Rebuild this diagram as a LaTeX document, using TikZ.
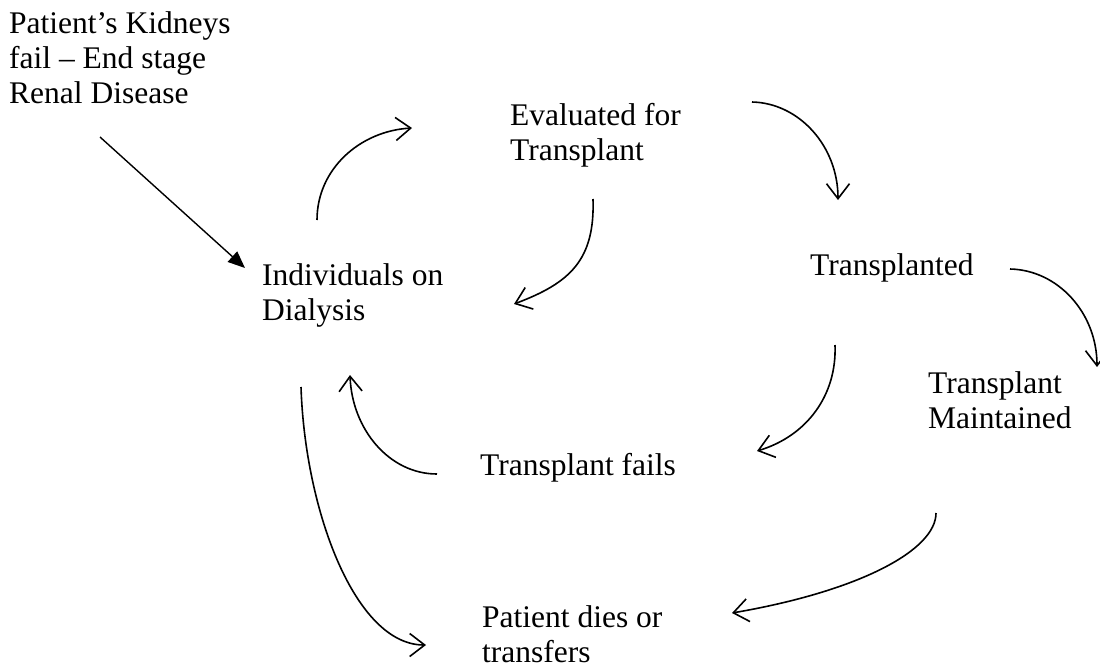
\documentclass[tikz,border=0pt]{standalone}
\usepackage{fontspec}
\setmainfont{Liberation Serif}
\usetikzlibrary{arrows.meta}
\begin{document}
\begin{tikzpicture}[x=1pt,y=-1pt,
  lbl/.style={anchor=north west,inner sep=0pt,align=left,font=\fontsize{31.5}{35}\selectfont},
  flow/.style={line width=1.6pt,-{Straight Barb[length=15pt,width=23pt,line width=1.6pt]}},
  entry/.style={line width=1.4pt,-{Triangle[length=17pt,width=14pt]}}]
\useasboundingbox (0,0) rectangle (1100,667);
\fill[white] (0,0) rectangle (1100,667);

\node[lbl] (esrd) at (9,11.5) {Patient’s Kidneys\\fail – End stage\\Renal Disease};
\node[lbl] (dial) at (262,263.5) {Individuals on\\Dialysis};
\node[lbl] (eval) at (510,103.5) {Evaluated for\\Transplant};
\node[lbl] (tx) at (810,253.5) {Transplanted};
\node[lbl] (maint) at (928,371.5) {Transplant\\Maintained};
\node[lbl] (fail) at (480,453.5) {Transplant fails};
\node[lbl] (dies) at (482,605) {Patient dies or\\transfers};

% connector end points
\coordinate (a1) at (100,137);  \coordinate (b1) at (245,268);
\coordinate (a2) at (317,220);  \coordinate (b2) at (412,128);
\coordinate (a3) at (752,102);  \coordinate (b3) at (838,200);
\coordinate (a4) at (593,199);  \coordinate (b4) at (514,304);
\coordinate (a5) at (1010,269); \coordinate (b5) at (1097,367);
\coordinate (a6) at (835,345);  \coordinate (b6) at (757,451);
\coordinate (a7) at (437,474);  \coordinate (b7) at (350,375);
\coordinate (a8) at (301,387);  \coordinate (b8) at (426,645);
\coordinate (a9) at (936,513);  \coordinate (b9) at (732,613);

\draw[entry] (a1) -- (b1);
\draw[flow] (a2) .. controls (317,169) and (360,131) .. (b2);
\draw[flow] (a3) .. controls (799,103) and (838,146) .. (b3);
\draw[flow] (a4) .. controls (595,260) and (570,283) .. (b4);
\draw[flow] (a5) .. controls (1058,270) and (1097,313) .. (b5);
\draw[flow] (a6) .. controls (837,395) and (807,436) .. (b6);
\draw[flow] (a7) .. controls (389,474) and (352,429) .. (b7);
\draw[flow] (a8) .. controls (305,510) and (355,645) .. (b8);
\draw[flow] (a9) .. controls (936,550) and (860,591) .. (b9);
\end{tikzpicture}
\end{document}
